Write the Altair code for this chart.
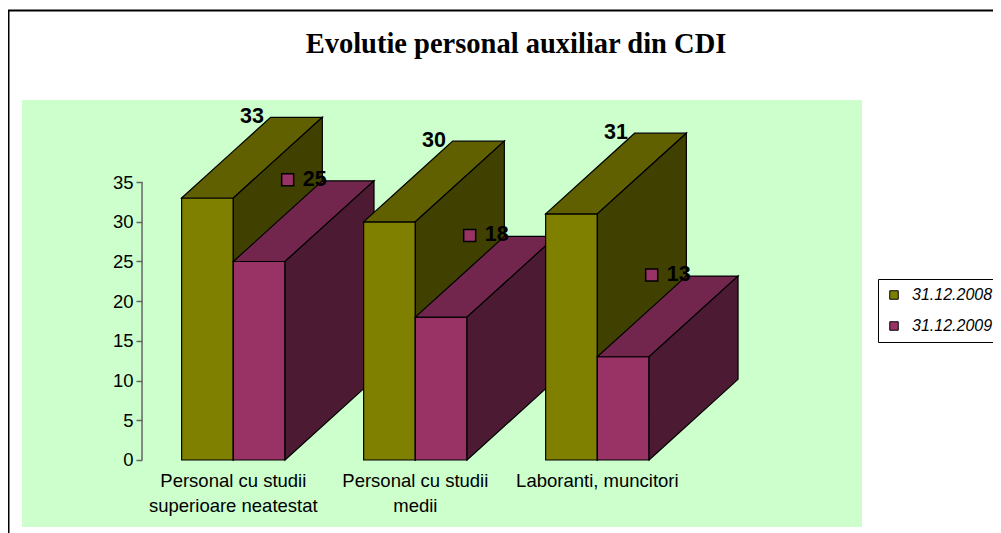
import altair as alt
import pandas as pd

# ---------------- data ----------------
categories = ["Personal cu studii\nsuperioare neatestat", "Personal cu studii\nmedii", "Laboranti, muncitori"]
series = ["31.12.2008", "31.12.2009"]
values_2008 = [33, 30, 31]
values_2009 = [25, 18, 13]
y_ticks = [0, 5, 10, 15, 20, 25, 30, 35]
title_text = "Evolutie personal auxiliar din CDI"

front_colors = ["#808000", "#993366"]
top_colors = ["#606000", "#73264d"]
side_colors = ["#404000", "#4d1a33"]

# ---------------- geometry (3-D look) ----------------
BW = 0.284   # bar width, category units
DX = 0.489   # depth, category units
DY = 10.16   # depth, value units
SL = DY / DX

vals = [values_2008, values_2009]
face_rows = []
face_list = []
for i, cat in enumerate(categories):
    for s, name in enumerate(series):
        v = vals[s][i]
        x0 = i - BW + s * BW
        x1 = x0 + BW
        base = f"{i}-{s}"
        k = base + "-front"
        face_list.append((k, s, "front"))
        for x in (x0, x1):
            face_rows.append(dict(face=k, key=name, x=x, y=0, y2=v))
        k = base + "-top"
        face_list.append((k, s, "top"))
        for x, lo, hi in [(x0, v, v), (x1, v, v + (x1 - x0) * SL),
                          (x0 + DX, v + (x0 + DX - x1) * SL, v + DY), (x1 + DX, v + DY, v + DY)]:
            face_rows.append(dict(face=k, key=name, x=x, y=lo, y2=hi))
        k = base + "-side"
        face_list.append((k, s, "side"))
        for x, lo, hi in [(x1, 0, v), (x1 + DX, DY, v + DY)]:
            face_rows.append(dict(face=k, key=name, x=x, y=lo, y2=hi))

faces = pd.DataFrame(face_rows)

label_rows = []
for i, cat in enumerate(categories):
    for s, name in enumerate(series):
        v = vals[s][i]
        c = i - BW / 2 + s * BW
        label_rows.append(dict(series=name, text=str(v), lx=c + DX / 2, ly=v + DY))
labels = pd.DataFrame(label_rows)
cats = pd.DataFrame({"cat": categories, "cx": list(range(len(categories))), "cy": [0] * len(categories)})
axis_df = pd.DataFrame({"ax": [-0.5016], "y0": [y_ticks[0]], "y1": [y_ticks[-1]]})
one = pd.DataFrame({"a": [0]})

# ---------------- scales ----------------
xscale = alt.Scale(domain=[-1.161, 3.454], nice=False, zero=False)
yscale = alt.Scale(domain=[-8.44, 45.34], nice=False, zero=False)

yaxis = alt.Axis(values=y_ticks, domain=False, grid=False, offset=-120, tickSize=6,
                 tickColor="#666666", tickWidth=1.5, labelFont="Liberation Sans",
                 labelFontSize=18.5, labelColor="black", labelPadding=3, title=None)

color = alt.Color("key:N", scale=alt.Scale(domain=series, range=front_colors),
                  legend=alt.Legend(orient="none", legendX=856, legendY=179, title=None,
                                    symbolType="square", symbolSize=72,
                                    symbolStrokeColor="black", symbolStrokeWidth=1,
                                    labelFont="Liberation Sans",
                                    labelFontSize=16, labelFontStyle="italic",
                                    labelColor="black", labelOffset=10, rowPadding=15,
                                    padding=8, strokeColor="black", fillColor="white",
                                    labelLimit=300))

X = alt.X("x:Q", scale=xscale, axis=None)
Y = alt.Y("y:Q", scale=yscale, axis=yaxis, stack=False)

base_faces = alt.Chart(faces)
layers = []
for k, s, kind in face_list:
    if kind == "front":
        layers.append(
            base_faces.transform_filter(alt.datum.face == k)
            .mark_area(stroke="black", strokeWidth=1.2, opacity=1)
            .encode(x=X, y=Y, y2="y2:Q", color=color)
        )
    else:
        fill = top_colors[s] if kind == "top" else side_colors[s]
        layers.append(
            base_faces.transform_filter(alt.datum.face == k)
            .mark_area(stroke="black", strokeWidth=1.2, opacity=1, fill=fill)
            .encode(x=X, y=Y, y2="y2:Q")
        )

axis_line = alt.Chart(axis_df).mark_rule(color="#666666", strokeWidth=1.5).encode(
    x=alt.X("ax:Q", scale=xscale, axis=None), y=alt.Y("y0:Q", scale=yscale, axis=yaxis), y2="y1:Q")

lab2008 = alt.Chart(labels).transform_filter(alt.datum.series == series[0]).mark_text(
    font="Liberation Sans", fontSize=21.5, fontWeight="bold", color="black",
    align="center", baseline="middle").encode(
    x=alt.X("lx:Q", scale=xscale, axis=None), y=alt.Y("ly:Q", scale=yscale, axis=yaxis), text="text:N")

mark2009 = alt.Chart(labels).transform_filter(alt.datum.series == series[1]).mark_square(
    size=144, fill=front_colors[1], stroke="black", strokeWidth=1.5, opacity=1,
    xOffset=-16, yOffset=-1).encode(
    x=alt.X("lx:Q", scale=xscale, axis=None), y=alt.Y("ly:Q", scale=yscale, axis=yaxis))

lab2009 = alt.Chart(labels).transform_filter(alt.datum.series == series[1]).mark_text(
    font="Liberation Sans", fontSize=21.5, fontWeight="bold", color="black",
    align="left", baseline="middle", dx=-1, dy=-1).encode(
    x=alt.X("lx:Q", scale=xscale, axis=None), y=alt.Y("ly:Q", scale=yscale, axis=yaxis), text="text:N")

cat_labels = alt.Chart(cats).mark_text(
    font="Liberation Sans", fontSize=18.5, color="black", align="center",
    baseline="alphabetic", dy=27, lineBreak="\n", lineHeight=25).encode(
    x=alt.X("cx:Q", scale=xscale, axis=None), y=alt.Y("cy:Q", scale=yscale, axis=yaxis), text="cat:N")

title = alt.Chart(one).mark_text(
    text=title_text, font="Liberation Serif", fontSize=28.5, fontWeight="bold",
    color="black", align="center", baseline="alphabetic").encode(
    x=alt.value(494), y=alt.value(-47))

frame_left = alt.Chart(one).mark_rule(color="black", strokeWidth=2).encode(
    x=alt.value(-13.5), y=alt.value(-90), y2=alt.value(440))
frame_top = alt.Chart(one).mark_rule(color="black", strokeWidth=2).encode(
    x=alt.value(-14.5), x2=alt.value(1000), y=alt.value(-89.5))

chart = alt.layer(*layers, axis_line, lab2008, mark2009, lab2009, cat_labels, title,
                  frame_left, frame_top).properties(
    width=840, height=427,
    autosize=alt.AutoSizeParams(type="none"),
    padding={"left": 14, "top": 92, "right": 131, "bottom": 6},
).configure_view(fill="#CCFFCC", strokeWidth=0)

chart.save("out.html", embed_options={"renderer": "svg", "actions": False})
